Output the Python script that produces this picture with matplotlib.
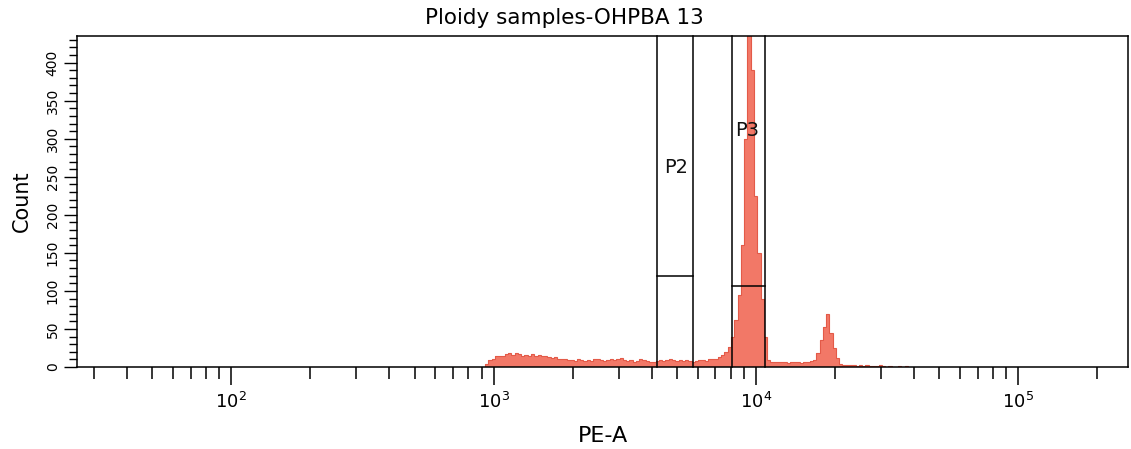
import numpy as np
import matplotlib
matplotlib.use("Agg")
import matplotlib.pyplot as plt
from matplotlib.ticker import FixedLocator, LogLocator, NullFormatter, MultipleLocator

plt.rcParams['font.family'] = ['DejaVu Sans']
plt.rcParams['mathtext.fontset'] = 'dejavusans'

# ---- data ----
title = "Ploidy samples-OHPBA 13"
x_label = "PE-A"
y_label = "Count"

hist_log_start = 2.9675   # log10 of first bin edge
hist_log_step = 0.0125    # bin width in decades
counts = [
    4, 9, 11, 14, 15, 14, 17, 19, 16, 19,
    17, 15, 16, 15, 17, 15, 16, 14, 15, 13,
    12, 13, 11, 10, 11, 9, 9, 8, 10, 9,
    8, 9, 8, 10, 11, 9, 8, 9, 10, 9,
    10, 12, 9, 8, 9, 7, 8, 10, 9, 8,
    7, 6, 8, 9, 8, 9, 10, 9, 8, 9,
    8, 9, 8, 7, 8, 9, 9, 8, 10, 10,
    11, 13, 16, 20, 26, 40, 62, 95, 160, 300,
    480, 390, 225, 150, 90, 40, 9, 7, 6, 6,
    7, 6, 5, 6, 7, 6, 5, 7, 6, 8,
    9, 18, 35, 52, 70, 45, 25, 12, 4, 3,
    2, 2, 2, 1, 2, 1, 2, 1, 1, 1,
    2, 1, 0, 1, 0, 0, 1, 0, 1,
]

# gates
gate_names = ["P2", "P3"]
gate_x_low = [4180, 8130]
gate_x_high = [5780, 10860]
gate_y_low = [119, 106]
gate_label_pos = [(4960, 262), (9280, 311)]

x_limits = (25.8, 262144)
y_limits = (0, 435)
x_major = [1e2, 1e3, 1e4, 1e5]
x_major_labels = [r"$10^{2}$", r"$10^{3}$", r"$10^{4}$", r"$10^{5}$"]
y_major = [0, 50, 100, 150, 200, 250, 300, 350, 400]

# ---- figure ----
W, H = 1131, 449
fig = plt.figure(figsize=(W / 100, H / 100), dpi=100)
ax_left, ax_right, ax_top, ax_bottom = 77, 1128, 36, 367
ax = fig.add_axes([ax_left / W, (H - ax_bottom) / H,
                   (ax_right - ax_left) / W, (ax_bottom - ax_top) / H])

edges = 10 ** (hist_log_start + hist_log_step * np.arange(len(counts) + 1))
ax.stairs(counts, edges, fill=True, facecolor="#F27867", edgecolor="none", zorder=1)
ax.stairs(counts, edges, fill=False, edgecolor="#E35A48", linewidth=0.8, zorder=1.5)

ax.set_xscale("log")
ax.set_xlim(*x_limits)
ax.set_ylim(*y_limits)

# gates
for name, xl, xh, yl, (tx, ty) in zip(gate_names, gate_x_low, gate_x_high,
                                       gate_y_low, gate_label_pos):
    ax.plot([xl, xl], [0, y_limits[1]], color="black", lw=1.1, zorder=3, clip_on=False)
    ax.plot([xh, xh], [0, y_limits[1]], color="black", lw=1.1, zorder=3, clip_on=False)
    ax.plot([xl, xh], [yl, yl], color="black", lw=1.1, zorder=3)
    ax.text(tx, ty, name, fontsize=14, ha="center", va="center", color="#111111", zorder=4)

# spines
for s in ax.spines.values():
    s.set_linewidth(1.1)
    s.set_color("black")

# x ticks
ax.xaxis.set_major_locator(FixedLocator(x_major))
ax.set_xticklabels(x_major_labels)
ax.xaxis.set_minor_locator(LogLocator(base=10, subs=np.arange(2, 10)))
ax.xaxis.set_minor_formatter(NullFormatter())
ax.tick_params(axis="x", which="major", direction="out", length=13, width=1.1,
               pad=5, labelsize=13)
ax.tick_params(axis="x", which="minor", direction="out", length=8.5, width=1.1)

# y ticks
ax.yaxis.set_major_locator(FixedLocator(y_major))
ax.yaxis.set_minor_locator(MultipleLocator(10))
ax.tick_params(axis="y", which="major", direction="out", length=9.5, width=1.0,
               pad=3, labelsize=10, labelrotation=90)
ax.tick_params(axis="y", which="minor", direction="out", length=5.8, width=1.0)
for lab in ax.get_yticklabels():
    lab.set_va("center")

# labels
ax.set_ylabel(y_label, fontsize=15)
ax.yaxis.label.set_va("center")
ax.yaxis.set_label_coords((22 - ax_left) / (ax_right - ax_left), 0.5)
ax.set_xlabel(x_label, fontsize=16)
ax.xaxis.label.set_va("center")
ax.xaxis.set_label_coords(0.5, (ax_bottom - 436) / (ax_bottom - ax_top))
ax.set_title(title, fontsize=15.5, x=(564 - ax_left) / (ax_right - ax_left),
             y=(ax_bottom - 18) / (ax_bottom - ax_top), va="center", pad=0)

fig.savefig("out.png", dpi=100, facecolor="white")
